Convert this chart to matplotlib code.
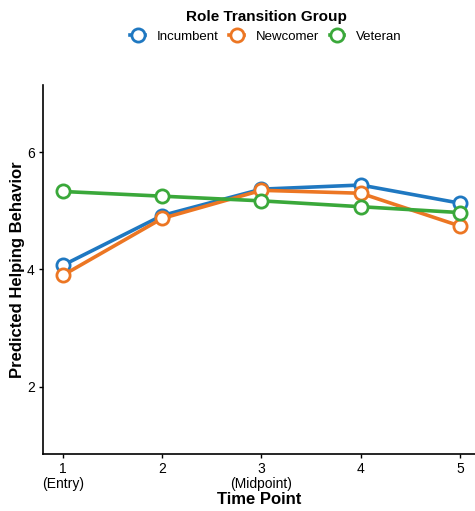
import matplotlib
matplotlib.use("Agg")
import matplotlib.pyplot as plt

plt.rcParams['font.family'] = ['Liberation Sans', 'DejaVu Sans']

time_points = [1, 2, 3, 4, 5]
tick_labels = ['1\n(Entry)', '2', '3\n(Midpoint)', '4', '5']

groups = ['Incumbent', 'Newcomer', 'Veteran']
incumbent = [4.07, 4.92, 5.37, 5.44, 5.13]
newcomer = [3.90, 4.87, 5.35, 5.30, 4.74]
veteran = [5.33, 5.25, 5.17, 5.07, 4.97]
colores = ['#1f78c1', '#ec7623', '#3aa83a']

fig = plt.figure(figsize=(4.75, 5.11), dpi=100)
ax = fig.add_axes([0.0905, 0.1115, 0.9095, 0.7225])

for nombre, valores, color in zip(groups, [incumbent, newcomer, veteran], colores):
    ax.plot(time_points, valores, '-o', color=color, lw=2.6, ms=9.5,
            mfc='white', mec=color, mew=2, label=nombre, clip_on=False)

ax.set_xlim(0.8, 5.15)
ax.set_ylim(0.85, 7.15)
ax.set_yticks([2, 4, 6])
ax.set_xticks(time_points)
ax.set_xticklabels(tick_labels, fontsize=10, linespacing=1.05)
ax.tick_params(axis='y', labelsize=10)
ax.tick_params(length=3, width=1, pad=3)
for lado in ['top', 'right']:
    ax.spines[lado].set_visible(False)
for lado in ['left', 'bottom']:
    ax.spines[lado].set_linewidth(1.2)

ax.set_xlabel('Time Point', fontsize=12, fontweight='bold', labelpad=1)
ax.set_ylabel('Predicted Helping Behavior', fontsize=12, fontweight='bold', labelpad=1)

leg = fig.legend(loc='upper center', bbox_to_anchor=(0.56, 1.006), ncol=3,
                 frameon=False, title='Role Transition Group', fontsize=9.5,
                 title_fontproperties={'weight': 'bold', 'size': 11},
                 handlelength=1.1, columnspacing=0.8, handletextpad=0.9,
                 borderpad=0.5)

fig.savefig('out.png', dpi=100)
